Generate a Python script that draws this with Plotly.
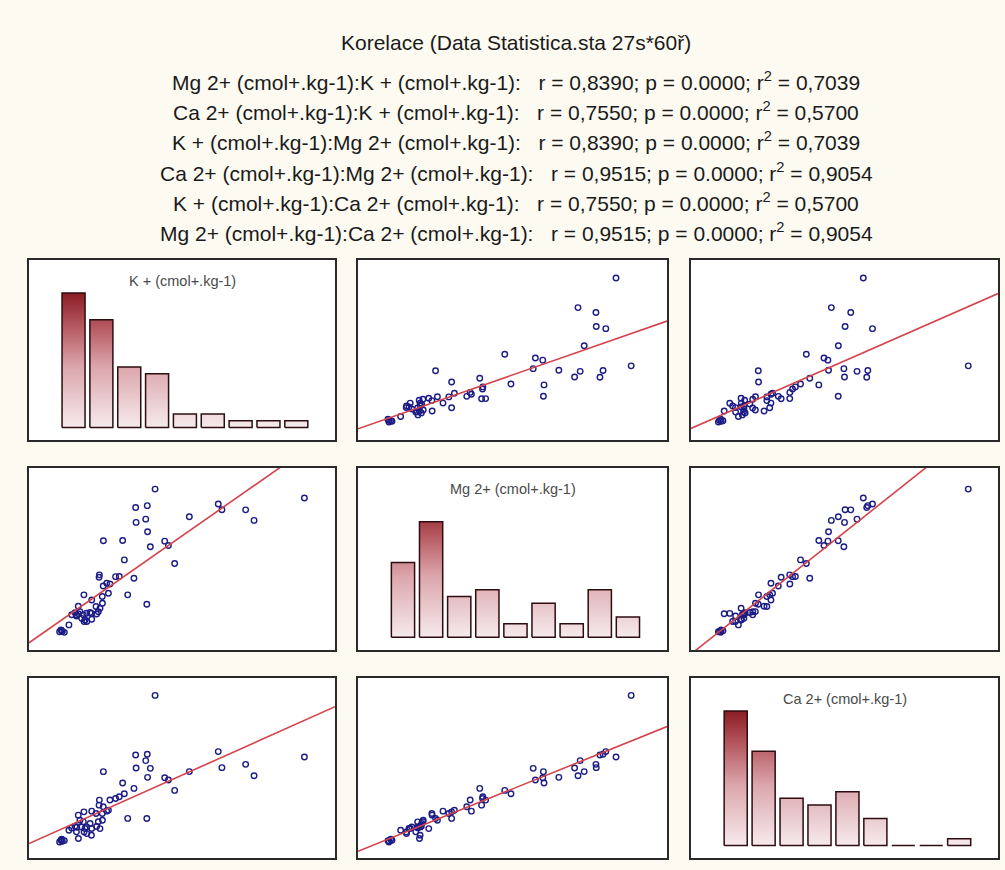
import numpy as np
import plotly.graph_objects as go

# ---------------- data ----------------
var_names = ["K + (cmol+.kg-1)", "Mg 2+ (cmol+.kg-1)", "Ca 2+ (cmol+.kg-1)"]

K = [1.80, 0.824, 0.697, 0.773, 0.700, 0.763, 0.775, 0.793, 0.770, 0.486,
     0.612, 0.887, 0.911, 1.048, 1.237, 1.261, 1.416, 1.471, 0.952, 0.623,
     0.686, 0.645, 0.590, 0.566, 0.460, 0.458, 0.485, 0.508, 0.529, 0.519,
     0.479, 0.480, 0.359, 0.410, 0.438, 0.322, 0.333, 0.355, 0.377, 0.312,
     0.344, 0.366, 0.410, 0.453, 0.464, 0.442, 0.399, 0.301, 0.360, 0.261,
     0.209, 0.218, 0.200, 0.231, 0.310, 0.323, 0.408, 0.378, 0.279, 0.214]

Mg = [8.35, 8.84, 7.83, 7.93, 7.01, 7.19, 6.50, 5.67, 2.51, 6.00,
      6.02, 5.98, 5.74, 7.32, 8.02, 7.71, 7.70, 7.12, 4.75, 4.95,
      3.94, 3.03, 4.04, 4.03, 4.13, 4.00, 3.52, 3.67, 3.63, 3.12,
      2.94, 2.57, 3.03, 2.75, 2.39, 2.40, 2.11, 1.93, 2.02, 1.92,
      1.74, 1.65, 1.69, 2.10, 2.29, 1.98, 2.06, 2.05, 1.56, 1.38,
      1.10, 1.01, 1.00, 0.97, 1.87, 1.99, 2.01, 1.57, 1.94, 1.06]

Ca = [14.03, 22.58, 14.31, 14.40, 12.50, 13.52, 11.20, 12.45, 5.48, 11.99,
      10.41, 11.15, 10.83, 12.00, 14.78, 12.55, 13.01, 11.43, 9.39, 8.92,
      9.67, 5.50, 8.50, 8.27, 8.04, 7.34, 7.11, 6.51, 8.05, 6.64,
      6.18, 5.25, 6.41, 6.51, 6.18, 5.95, 5.24, 5.02, 4.32, 4.28,
      4.31, 4.09, 4.10, 5.03, 4.08, 4.37, 4.79, 4.41, 3.62, 3.86,
      2.46, 2.32, 2.23, 2.42, 3.63, 2.70, 3.16, 3.39, 4.18, 2.60]

# histogram bin counts (9 bins each)
K_counts = [20, 16, 9, 8, 2, 2, 1, 1, 1]
Mg_counts = [11, 17, 6, 7, 2, 5, 2, 7, 3]
Ca_counts = [20, 14, 7, 6, 8, 4, 0, 0, 1]

title_lines = [
    "Korelace (Data Statistica.sta 27s*60ř)",
    "Mg 2+ (cmol+.kg-1):K + (cmol+.kg-1):   r = 0,8390; p = 0.0000; r<sup>2</sup> = 0,7039",
    "Ca 2+ (cmol+.kg-1):K + (cmol+.kg-1):   r = 0,7550; p = 0.0000; r<sup>2</sup> = 0,5700",
    "K + (cmol+.kg-1):Mg 2+ (cmol+.kg-1):   r = 0,8390; p = 0.0000; r<sup>2</sup> = 0,7039",
    "Ca 2+ (cmol+.kg-1):Mg 2+ (cmol+.kg-1):   r = 0,9515; p = 0.0000; r<sup>2</sup> = 0,9054",
    "K + (cmol+.kg-1):Ca 2+ (cmol+.kg-1):   r = 0,7550; p = 0.0000; r<sup>2</sup> = 0,5700",
    "Mg 2+ (cmol+.kg-1):Ca 2+ (cmol+.kg-1):   r = 0,9515; p = 0.0000; r<sup>2</sup> = 0,9054",
]

# ---------------- layout constants ----------------
W, H = 1005, 870
col_px = [(29, 335), (358, 667), (691, 998)]
row_px = [(260, 440), (468, 650), (678, 858)]
title_y_px = [43, 81, 111, 141, 172, 202, 232]
var_range = [[0, 2.0], [0, 10.0], [0, 25.0]]
hist_xrange = [-1.6, 9.39]
hist_yrange = [-1.87, 24.9]
BG = "#fcfaf1"
FONT = "Liberation Sans, Arial, sans-serif"

data = [np.array(K), np.array(Mg), np.array(Ca)]
counts = [K_counts, Mg_counts, Ca_counts]

fig = go.Figure()
layout_axes = {}
annotations = []

for r in range(3):
    for c in range(3):
        k = r * 3 + c + 1
        sfx = "" if k == 1 else str(k)
        xa, ya = "x" + sfx, "y" + sfx
        xd = [col_px[c][0] / W, col_px[c][1] / W]
        yd = [1 - row_px[r][1] / H, 1 - row_px[r][0] / H]
        ax_common = dict(showgrid=False, zeroline=False, showticklabels=False,
                         ticks="", showline=True, mirror=True,
                         linecolor="#2a2a2a", linewidth=2, fixedrange=True)
        if r == c:
            cnt = counts[r]
            xs, ys = [], []
            hw = 0.413
            for i, n in enumerate(cnt):
                xs += [i - hw, i - hw, i + hw, i + hw, i - hw, None]
                ys += [0, n, n, 0, 0, None]
            fig.add_trace(go.Scatter(
                x=xs, y=ys, xaxis=xa, yaxis=ya, mode="lines", fill="toself",
                fillgradient=dict(type="vertical", start=0, stop=20,
                                  colorscale=[[0, "#f6eaec"], [0.45, "#dba6ac"],
                                              [0.75, "#b65860"], [1, "#8a1c24"]]),
                line=dict(color="#2e0c10", width=1.5),
                hoverinfo="skip", showlegend=False))
            layout_axes["xaxis" + sfx] = dict(domain=xd, anchor=ya, range=hist_xrange, **ax_common)
            layout_axes["yaxis" + sfx] = dict(domain=yd, anchor=xa, range=hist_yrange, **ax_common)
            annotations.append(dict(
                text=var_names[r], xref=xa + " domain", yref=ya + " domain",
                x=0.5, y=1 - 21 / 180, xanchor="center", yanchor="middle",
                showarrow=False,
                font=dict(family=FONT, size=14.5, color="#4a4a4a")))
        else:
            xv, yv = data[c], data[r]
            fig.add_trace(go.Scatter(
                x=xv, y=yv, xaxis=xa, yaxis=ya, mode="markers",
                marker=dict(symbol="circle-open", size=5.5, color="#1c1c86",
                            line=dict(width=1.4, color="#1c1c86")),
                hoverinfo="skip", showlegend=False))
            slope, icpt = np.polyfit(xv, yv, 1)
            lx = np.array(var_range[c])
            fig.add_trace(go.Scatter(
                x=lx, y=slope * lx + icpt, xaxis=xa, yaxis=ya, mode="lines",
                line=dict(color="#d4434b", width=1.6),
                hoverinfo="skip", showlegend=False))
            layout_axes["xaxis" + sfx] = dict(domain=xd, anchor=ya, range=var_range[c], **ax_common)
            layout_axes["yaxis" + sfx] = dict(domain=yd, anchor=xa, range=var_range[r], **ax_common)

for i, t in enumerate(title_lines):
    annotations.append(dict(
        text=t, xref="paper", yref="paper", x=516 / W, y=1 - title_y_px[i] / H,
        xanchor="center", yanchor="middle", showarrow=False,
        font=dict(family=FONT, size=21, color="#1a1a1a")))

fig.update_layout(
    width=W, height=H, margin=dict(l=0, r=0, t=0, b=0),
    paper_bgcolor=BG, plot_bgcolor="white",
    font=dict(family=FONT, size=14, color="#1a1a1a"),
    hovermode=False,
    annotations=annotations, **layout_axes)

fig.write_html(
    "out.html",
    config={"displayModeBar": False, "staticPlot": True},
    post_script="document.body.style.margin='0px';"
                "document.body.style.overflow='hidden';"
                "document.body.style.background='" + BG + "';")
